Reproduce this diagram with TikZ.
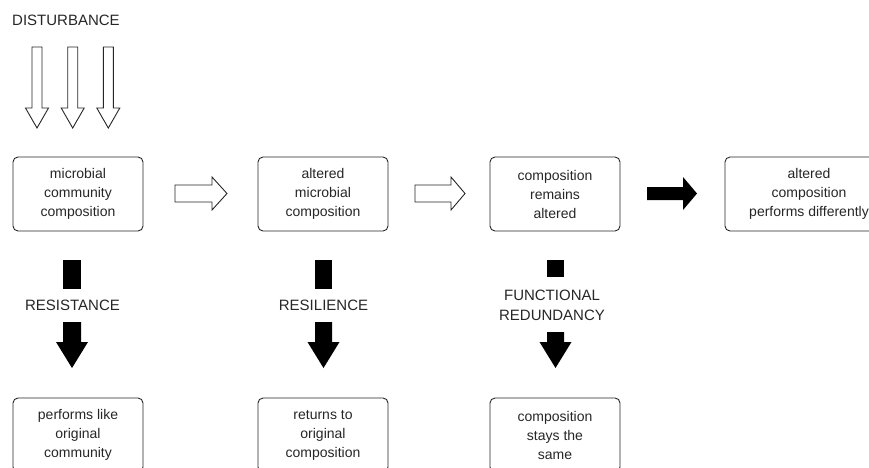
\documentclass[tikz,border=0pt]{standalone}
\usepackage{fontspec}
\setmainfont{Liberation Sans}
\begin{document}
\begin{tikzpicture}[x=1pt,y=-1pt,
  box/.style={draw=black!85, line width=0.9pt, rounded corners=5pt, align=center,
    minimum width=130pt, minimum height=74pt, inner sep=0pt,
    font=\fontsize{14}{19}\selectfont, text=black!85},
  lbl/.style={align=center, font=\fontsize{15}{20}\selectfont, text=black!85, inner sep=0pt},
  hollow/.style={draw=black!85, fill=white, line width=0.9pt, line join=miter},
  solid/.style={fill=black, draw=none}]
\useasboundingbox (0,0) rectangle (869,467);
\clip (0,0) rectangle (869,467);
% title
\node[lbl, anchor=west] (dist) at (12,20) {DISTURBANCE};
% top row
\node[box] (b1) at (78,194) {microbial\\community\\composition};
\node[box] (b2) at (323,194) {altered\\microbial\\composition};
\node[box] (b3) at (555,194) {composition\\remains\\altered};
\node[box, minimum width=168pt] (b4) at (809,194) {altered\\composition\\performs differently};
% bottom row
\node[box] (c1) at (78,435) {performs like\\original\\community};
\node[box] (c2) at (323,435) {returns to\\original\\composition};
\node[box] (c3) at (555,435) {composition\\stays the\\same};
% labels
\node[lbl] (l1) at (72.5,305) {RESISTANCE};
\node[lbl] (l2) at (323.5,305) {RESILIENCE};
\node[lbl] (l3) at (552,305) {FUNCTIONAL\\REDUNDANCY};
% disturbance arrows
\foreach \cx in {37,72.7,108.3}{
  \draw[hollow] (\cx-5,47) -- (\cx+5,47) -- (\cx+5,108) -- (\cx+11.5,108) -- (\cx,128)
    -- (\cx-11.5,108) -- (\cx-5,108) -- cycle;
}
% horizontal hollow arrows
\foreach \sx/\hx/\ex in {175/212/227, 415/451/465}{
  \draw[hollow] (\sx,185) -- (\hx,185) -- (\hx,177) -- (\ex,193.5) -- (\hx,210)
    -- (\hx,202) -- (\sx,202) -- cycle;
}
% black horizontal arrow
\fill[solid] (647,187) -- (683,187) -- (683,177) -- (697,193.5) -- (683,210)
  -- (683,200) -- (647,200) -- cycle;
% vertical black arrows
\foreach \cx/\hw/\rb/\st in {72/9/289/322, 323.5/8.5/289/322, 555.5/8.5/277/332}{
  \fill[solid] (\cx-\hw,260) rectangle (\cx+\hw,\rb);
  \fill[solid] (\cx-\hw,\st) -- (\cx+\hw,\st) -- (\cx+\hw,342) -- (\cx+16,342)
    -- (\cx,368) -- (\cx-16,342) -- (\cx-\hw,342) -- cycle;
}
\end{tikzpicture}
\end{document}
